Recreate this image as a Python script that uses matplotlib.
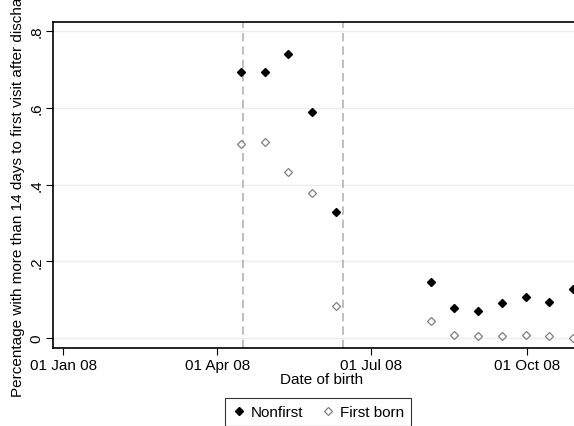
import datetime as dt

import matplotlib
matplotlib.use('Agg')
import matplotlib.pyplot as plt
import matplotlib.dates as mdates

plt.rcParams['font.family'] = ['Liberation Sans', 'DejaVu Sans']

# birth cohorts (biweekly)
dates = ['2008-04-15', '2008-04-29', '2008-05-13', '2008-05-27', '2008-06-10',
         '2008-08-05', '2008-08-19', '2008-09-02', '2008-09-16', '2008-09-30',
         '2008-10-14', '2008-10-28']
nonfirst = [0.693, 0.693, 0.740, 0.588, 0.328,
            0.147, 0.079, 0.071, 0.091, 0.108, 0.095, 0.128]
first_born = [0.505, 0.511, 0.433, 0.378, 0.084,
              0.044, 0.009, 0.004, 0.004, 0.009, 0.005, 0.001]
cutoffs = ['2008-04-16', '2008-06-14']
xticks = ['2008-01-01', '2008-04-01', '2008-07-01', '2008-10-01']
xtick_labels = ['01 Jan 08', '01 Apr 08', '01 Jul 08', '01 Oct 08']
yticks = [0, 0.2, 0.4, 0.6, 0.8]
ytick_labels = ['0', '.2', '.4', '.6', '.8']


def to_num(s):
    return mdates.date2num(dt.datetime.strptime(s, '%Y-%m-%d'))


W, H = 574, 427
fig = plt.figure(figsize=(W / 100, H / 100), dpi=100)
ax = fig.add_axes([53 / W, (H - 349) / H, (590 - 53) / W, (349 - 23) / H])

x = [to_num(d) for d in dates]

for c in cutoffs:
    ax.axvline(to_num(c), color='#b4b4b4', linestyle=(0, (5, 3)),
               linewidth=1.2, zorder=1)

for y in yticks:
    ax.axhline(y, color='#e6eef0', linewidth=1.0, zorder=0)

ax.plot(x, nonfirst, linestyle='none', marker='D', markersize=4,
        color='black', label='Nonfirst', zorder=3)
ax.plot(x, first_born, linestyle='none', marker='D', markersize=3.6,
        markerfacecolor='white', markeredgecolor='#808080',
        markeredgewidth=0.9, label='First born', zorder=3)

ax.set_xlim(to_num('2007-12-26'), to_num('2008-11-07'))
ax.set_ylim(-0.026, 0.8235)

ax.set_xticks([to_num(d) for d in xticks])
ax.set_xticklabels(xtick_labels, fontsize=11)
ax.set_yticks(yticks)
ax.set_yticklabels(ytick_labels, fontsize=11, rotation=90, va='center')
ax.tick_params(direction='out', length=5, width=0.8, pad=2)

ax.set_xlabel('Date of birth', fontsize=11, labelpad=0)
ax.set_ylabel('Percentage with more than 14 days to first visit after discharge',
              fontsize=11, labelpad=3)

for side in ['left', 'top', 'bottom']:
    ax.spines[side].set_linewidth(1.2)
ax.spines['right'].set_visible(False)

leg = fig.legend(loc='center', bbox_to_anchor=(318 / W, (H - 413) / H),
                 ncol=2, fontsize=11, frameon=True, fancybox=False,
                 edgecolor='black', handletextpad=0.3, columnspacing=1.2,
                 borderpad=0.45, handlelength=0.9)
leg.get_frame().set_linewidth(0.8)

fig.savefig('out.png', dpi=100)
